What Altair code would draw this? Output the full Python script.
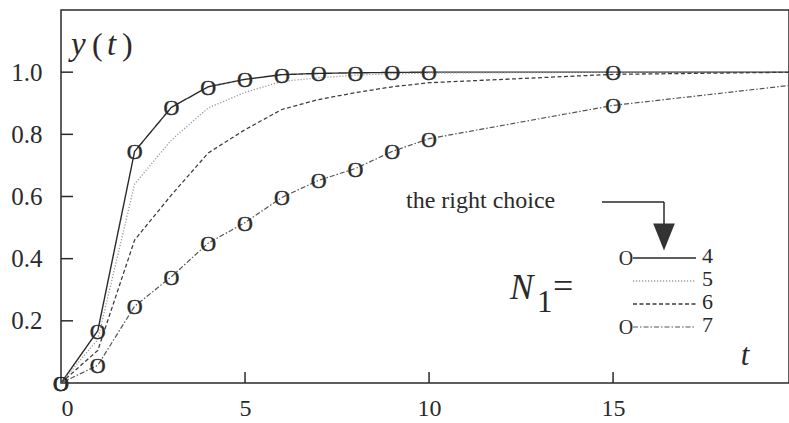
import altair as alt
import pandas as pd

# Step responses y(t) for different model orders N1
t_values = [0, 1, 2, 3, 4, 5, 6, 7, 8, 9, 10, 15, 20]
y_n4 = [0.0, 0.168, 0.745, 0.887, 0.953, 0.977, 0.992, 0.996, 0.998, 0.999, 1.0, 1.0, 1.0]
y_n5 = [0.0, 0.14, 0.64, 0.782, 0.885, 0.935, 0.97, 0.982, 0.99, 0.995, 0.997, 1.0, 1.0]
y_n6 = [0.0, 0.105, 0.46, 0.605, 0.74, 0.815, 0.88, 0.912, 0.934, 0.953, 0.966, 0.993, 1.0]
y_n7 = [0.0, 0.057, 0.247, 0.342, 0.45, 0.516, 0.597, 0.652, 0.69, 0.745, 0.786, 0.893, 0.96]

orders = ["4", "5", "6", "7"]
marked_orders = ["4", "7"]
marker_times = [0, 1, 2, 3, 4, 5, 6, 7, 8, 9, 10, 15]

x_ticks = [0, 5, 10, 15]
y_ticks = [0.2, 0.4, 0.6, 0.8, 1.0]
x_tick_marks = [5, 10, 15]

series = {"4": y_n4, "5": y_n5, "6": y_n6, "7": y_n7}
rows = []
for n in orders:
    for t, y in zip(t_values, series[n]):
        rows.append({"t": t, "y": y, "N1": n})
df = pd.DataFrame(rows)
markers = df[df["N1"].isin(marked_orders) & df["t"].isin(marker_times)]

SERIF = "Liberation Serif"
INK = "#2a2a2a"
W, H = 728, 373
XMAX = 19.78

xscale = alt.Scale(domain=[0, XMAX], nice=False, zero=False)
yscale = alt.Scale(domain=[0, 1.2], nice=False)

color_scale = alt.Scale(domain=orders, range=["#2a2a2a", "#9a9a9a", "#3c3c3c", "#555555"])
dash_scale = alt.Scale(domain=orders, range=[[1, 0], [1.2, 1.8], [4, 2.5], [5, 2, 1.5, 2]])
width_scale = alt.Scale(domain=orders, range=[1.4, 1.2, 1.4, 1.2])

x_axis = alt.Axis(values=x_ticks, title=None, grid=False, ticks=False, tickSize=0, domain=False,
                  labelFont=SERIF, labelFontSize=24, labelColor=INK, labelPadding=13, format="d")
y_axis = alt.Axis(values=y_ticks, title=None, grid=False, ticks=False, tickSize=0, domain=False,
                  labelFont=SERIF, labelFontSize=25, labelColor=INK, labelPadding=19, format=".1f")

lines = alt.Chart(df).mark_line(clip=True).encode(
    x=alt.X("t:Q", scale=xscale, axis=x_axis),
    y=alt.Y("y:Q", scale=yscale, axis=y_axis),
    color=alt.Color("N1:N", scale=color_scale, legend=None),
    strokeDash=alt.StrokeDash("N1:N", scale=dash_scale, legend=None),
    strokeWidth=alt.StrokeWidth("N1:N", scale=width_scale, legend=None),
    detail="N1:N",
)

circles = alt.Chart(markers).mark_text(
    text="O", font=SERIF, fontSize=22, baseline="middle", align="center", color=INK, dy=1,
    stroke=INK, strokeWidth=0.4
).encode(x=alt.X("t:Q", scale=xscale), y=alt.Y("y:Q", scale=yscale))

# inward tick marks on both axes
ytick_df = pd.DataFrame({"v": y_ticks})
yticks = alt.Chart(ytick_df).mark_rule(color=INK, strokeWidth=1.5).encode(
    y=alt.Y("v:Q", scale=yscale), x=alt.value(0), x2=alt.value(12)
)
xtick_df = pd.DataFrame({"v": x_tick_marks})
xticks = alt.Chart(xtick_df).mark_rule(color=INK, strokeWidth=1.5).encode(
    x=alt.X("v:Q", scale=xscale), y=alt.value(H), y2=alt.value(H - 11)
)

def label(text, x, y, size, style="normal", align="left", baseline="middle"):
    return alt.Chart(pd.DataFrame({"s": [text]})).mark_text(
        font=SERIF, fontSize=size, fontStyle=style, align=align, baseline=baseline, color=INK
    ).encode(text="s:N", x=alt.value(x), y=alt.value(y))

ox, oy = 61, 10  # plot origin in page pixels

annotations = [
    # y(t) with italic symbols and upright parentheses
    label("y", 71 - ox, 45 - oy, 33, style="italic"),
    label("(", 92 - ox, 45 - oy, 32),
    label("t", 107 - ox, 45 - oy, 33, style="italic"),
    label(")", 122 - ox, 45 - oy, 32),
    label("t", 745 - ox, 356 - oy, 31, style="italic", align="center"),
    label("the right choice", 406 - ox, 201 - oy, 24),
    label("N", 510 - ox, 288 - oy, 35, style="italic"),
    label("1", 537 - ox, 303 - oy, 31),
    label("=", 553 - ox, 287 - oy, 36),
]

# legend entries: sample strokes and order numbers
leg_y = {"4": 258, "5": 281, "6": 304, "7": 327}
legend_layers = []
for n in orders:
    yy = leg_y[n] - oy
    legend_layers.append(
        alt.Chart(pd.DataFrame({"N1": [n]})).mark_rule().encode(
            x=alt.value(633 - ox), x2=alt.value(696 - ox), y=alt.value(yy),
            color=alt.Color("N1:N", scale=color_scale, legend=None),
            strokeDash=alt.StrokeDash("N1:N", scale=dash_scale, legend=None),
            strokeWidth=alt.StrokeWidth("N1:N", scale=width_scale, legend=None),
        )
    )
    legend_layers.append(label(n, 702 - ox, yy - 2, 22))
for n in marked_orders:
    legend_layers.append(label("O", 626 - ox, leg_y[n] - oy + 1, 20, align="center"))

# arrow pointing at the chosen order
arrow_h = alt.Chart(pd.DataFrame({"a": [0]})).mark_rule(color=INK, strokeWidth=1.5).encode(
    x=alt.value(602 - ox), x2=alt.value(664 - ox), y=alt.value(202 - oy)
)
arrow_v = alt.Chart(pd.DataFrame({"a": [0]})).mark_rule(color=INK, strokeWidth=1.5).encode(
    x=alt.value(664 - ox), y=alt.value(202 - oy), y2=alt.value(226 - oy)
)
arrow_head = alt.Chart(pd.DataFrame({"a": [0]})).mark_point(
    shape="M -0.8 -1 L 0.8 -1 L 0 1 Z", filled=True, color="#333333", opacity=1, size=729
).encode(x=alt.value(664 - ox), y=alt.value(237 - oy))

chart = alt.layer(
    lines, circles, yticks, xticks, *annotations, *legend_layers, arrow_h, arrow_v, arrow_head
).properties(
    width=W, height=H,
    autosize=alt.AutoSizeParams(type="none"),
    padding={"left": ox, "top": oy, "right": 0, "bottom": 40},
    background="white",
).configure_view(
    stroke=INK, strokeWidth=1.5
).configure_axis(
    labelFont=SERIF
).configure_text(
    font=SERIF
)

chart.save("out.html", embed_options={"renderer": "svg", "actions": False})
